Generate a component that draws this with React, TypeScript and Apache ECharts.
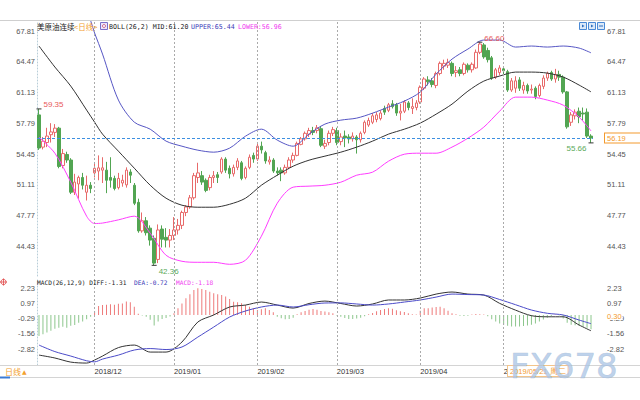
import React, { useEffect, useRef } from "react";
import * as echarts from "echarts";

const monthNames = ["2018/11", "2018/12", "2019/01", "2019/02", "2019/03", "2019/04", "2019/05"];
const monthDays = [
  [13, 14, 15, 16, 19, 20, 21, 22, 23, 26, 27, 28, 29, 30],
  [3, 4, 5, 6, 7, 10, 11, 12, 13, 14, 17, 18, 19, 20, 21, 24, 26, 27, 28, 31],
  [2, 3, 4, 7, 8, 9, 10, 11, 14, 15, 16, 17, 18, 22, 23, 24, 25, 28, 29, 30, 31],
  [1, 4, 5, 6, 7, 8, 11, 12, 13, 14, 15, 18, 19, 20, 21, 22, 25, 26, 27, 28],
  [1, 4, 5, 6, 7, 8, 11, 12, 13, 14, 15, 18, 19, 20, 21, 22, 25, 26, 27, 28, 29],
  [1, 2, 3, 4, 5, 8, 9, 10, 11, 12, 15, 16, 17, 18, 22, 23, 24, 25, 26, 29, 30],
  [1, 2, 3, 6, 7, 8, 9, 10, 13, 14, 15, 16, 17, 20, 21, 22, 23, 24, 27, 28, 29, 30, 31],
];

// [open, close, low, high]
const novOHLC = [
  [58.7, 55.1, 54.9, 59.35], [55.2, 55.85, 54.95, 56.3], [55.7, 56.4, 55.2, 57.3], [56.55, 56.85, 55.7, 57.8],
  [56.8, 57.26, 56.3, 57.7], [57.26, 53.1, 52.9, 57.4], [53.2, 54.5, 52.9, 55.0], [54.4, 53.8, 53.5, 54.7],
  [53.8, 50.3, 50.1, 54.0], [50.3, 51.4, 50.0, 52.3], [51.2, 51.9, 49.6, 52.1], [51.9, 51.06, 50.6, 52.4],
  [50.3, 51.06, 49.4, 52.1], [51.06, 50.7, 50.2, 51.4],
];
const decOHLC = [
  [52.4, 52.9, 51.9, 53.5], [52.6, 52.95, 51.6, 54.3], [52.7, 52.95, 51.3, 54.1], [52.7, 51.6, 50.2, 53.6],
  [51.9, 51.6, 50.8, 54.1], [51.8, 50.7, 50.5, 52.1], [50.8, 51.8, 50.6, 52.4], [51.3, 51.6, 50.9, 52.2],
  [51.1, 52.7, 50.8, 53.0], [52.5, 52.15, 51.3, 52.8], [51.06, 49.1, 48.9, 51.3], [49.2, 46.1, 45.9, 49.6],
  [46.1, 47.2, 45.9, 48.1], [47.2, 45.9, 45.6, 47.6], [46.4, 45.1, 44.5, 46.7], [45.3, 42.6, 42.36, 45.6],
  [43.0, 46.2, 42.6, 46.8], [46.3, 45.2, 44.3, 46.7], [45.4, 45.1, 44.3, 46.4], [45.1, 45.6, 44.3, 46.3],
];
const janOHLC = [
  [45.6, 46.2, 45.1, 47.6], [46.2, 46.7, 45.7, 47.4], [46.7, 48.1, 46.3, 48.3], [48.1, 48.7, 47.7, 48.9],
  [48.7, 49.7, 48.5, 50.0], [49.7, 52.1, 49.5, 52.4], [51.9, 52.4, 51.3, 53.5], [52.1, 51.4, 51.1, 52.6],
  [51.6, 50.5, 50.3, 51.8], [50.8, 51.9, 50.5, 52.2], [51.9, 52.1, 51.3, 52.6], [52.2, 51.9, 51.3, 52.5],
  [52.5, 53.9, 52.3, 54.1], [53.9, 52.7, 52.4, 54.1], [52.9, 52.3, 51.8, 53.2], [52.3, 53.0, 52.0, 53.3],
  [53.0, 53.7, 52.7, 54.0], [53.5, 51.8, 51.6, 53.7], [51.9, 52.9, 51.7, 53.1], [53.0, 54.1, 52.8, 54.4],
  [54.3, 53.9, 53.5, 54.6],
];
const febOHLC = [
  [53.9, 55.3, 53.7, 55.7], [55.3, 54.9, 54.5, 55.8], [54.6, 53.7, 53.4, 54.8], [53.6, 53.8, 53.3, 54.2],
  [53.8, 52.6, 52.4, 54.0], [52.6, 52.4, 52.1, 53.0], [52.7, 52.4, 51.5, 53.0], [52.4, 53.0, 52.2, 53.3],
  [53.0, 53.8, 52.8, 54.1], [53.8, 54.3, 53.5, 54.6], [54.3, 55.6, 54.2, 55.8], [55.5, 56.1, 55.4, 56.3],
  [56.1, 56.7, 55.9, 56.9], [56.6, 57.0, 56.3, 57.3], [57.0, 56.8, 56.5, 57.4], [57.0, 57.3, 56.7, 57.6],
  [57.2, 55.4, 55.2, 57.5], [55.3, 55.6, 55.0, 56.0], [55.7, 56.7, 55.4, 57.0], [56.7, 57.1, 56.4, 57.4],
];
const marOHLC = [
  [57.0, 55.7, 55.4, 57.3], [55.8, 56.3, 55.4, 56.7], [56.4, 56.2, 55.2, 57.0], [56.3, 56.1, 55.6, 56.6],
  [56.1, 56.4, 55.8, 56.8], [56.3, 56.0, 54.5, 56.5], [56.0, 56.7, 55.7, 56.9], [56.8, 57.9, 56.6, 58.1],
  [57.6, 58.1, 57.4, 58.4], [57.9, 58.6, 57.7, 58.9], [58.2, 58.7, 57.9, 59.0], [58.3, 58.9, 58.1, 59.2],
  [59.4, 59.0, 58.7, 59.7], [59.2, 59.8, 59.0, 60.0], [59.9, 59.6, 59.4, 60.3], [59.8, 58.9, 58.6, 60.0],
  [58.9, 59.1, 58.1, 59.9], [59.1, 60.1, 58.9, 60.3], [60.0, 59.5, 59.2, 60.2], [59.4, 59.6, 58.8, 60.5],
  [59.5, 60.0, 59.2, 60.3],
];
const aprOHLC = [
  [60.1, 61.7, 59.9, 61.9], [61.6, 62.6, 61.4, 62.8], [62.5, 62.3, 61.9, 62.9], [62.4, 62.0, 61.7, 62.7],
  [61.9, 63.2, 61.6, 63.4], [63.2, 64.3, 63.0, 64.5], [64.0, 64.3, 63.6, 64.7], [64.1, 64.4, 63.8, 64.8],
  [64.3, 63.2, 62.9, 64.5], [63.3, 63.5, 62.8, 64.0], [63.6, 63.2, 62.9, 63.9], [63.2, 64.2, 63.0, 64.4],
  [64.1, 63.6, 63.3, 64.3], [63.6, 64.2, 63.3, 64.4], [63.8, 65.5, 63.7, 65.8], [65.5, 66.4, 65.3, 66.6],
  [66.3, 65.0, 64.8, 66.5], [65.7, 64.7, 64.4, 66.0], [64.9, 62.7, 62.5, 65.1], [62.8, 63.6, 62.6, 63.8],
  [63.3, 63.8, 63.0, 64.1],
];
const mayOHLC = [
  [63.7, 63.5, 62.9, 64.0], [63.4, 61.4, 61.2, 63.6], [61.4, 62.4, 61.2, 62.7], [61.6, 62.4, 61.1, 62.9],
  [62.5, 61.6, 61.3, 62.8], [61.4, 61.9, 61.0, 62.3], [61.9, 61.3, 61.0, 62.1], [61.4, 61.5, 61.0, 62.0],
  [61.6, 60.7, 60.4, 61.8], [60.8, 61.9, 60.6, 62.1], [61.8, 62.7, 61.5, 63.0], [62.7, 63.2, 62.4, 63.4],
  [63.3, 62.6, 62.4, 63.5], [62.6, 63.1, 62.2, 63.7], [63.1, 62.8, 62.4, 63.5], [62.8, 61.2, 61.0, 63.0],
  [61.2, 57.4, 57.2, 61.3], [57.9, 58.7, 57.5, 59.0], [58.6, 59.0, 58.2, 59.3], [59.1, 58.5, 57.8, 59.5],
  [58.9, 58.8, 58.1, 59.5], [59.0, 56.4, 56.2, 59.4], [56.4, 56.19, 55.66, 56.6],
];

// indicator lines read at these candle positions
const sampleIdx = [0, 4, 8, 12, 14, 16, 20, 24, 28, 32, 36, 40, 44, 48, 52, 56, 60, 64, 68, 72, 76, 80, 84, 88, 92, 96, 100, 104, 108, 112, 116, 120, 124, 128, 132, 136, 139];
const bollMid = [66.18, 63.9, 61.83, 59.22, 57.91, 56.61, 54.76, 52.91, 51.06, 49.65, 48.89, 48.67, 48.67, 48.99, 49.65, 51.06, 52.15, 53.13, 53.78, 54.22, 54.65, 55.2, 55.85, 56.61, 57.15, 57.81, 58.78, 59.87, 61.28, 62.37, 62.92, 63.35, 63.35, 63.24, 62.81, 61.94, 61.2];
const bollUpper = [76.0, 73.4, 72.2, 70.0, 67.6, 65.31, 60.31, 57.91, 57.15, 55.85, 55.3, 54.87, 54.65, 55.09, 56.39, 57.15, 55.96, 55.3, 56.61, 57.7, 58.13, 58.35, 58.89, 59.55, 60.2, 61.18, 63.13, 64.76, 65.85, 66.83, 66.83, 66.07, 66.18, 66.07, 66.18, 65.96, 65.44];
const bollLower = [56.28, 54.54, 51.39, 47.69, 46.9, 46.95, 47.3, 47.7, 45.85, 43.45, 42.8, 42.69, 42.69, 42.47, 42.91, 45.52, 49.11, 50.85, 50.96, 51.06, 51.39, 52.15, 52.48, 53.67, 54.43, 54.54, 54.54, 55.2, 56.17, 57.37, 59.11, 60.63, 60.63, 60.31, 59.76, 58.46, 56.96];
const macdDiff = [-3.32, -3.56, -3.9, -3.98, -3.73, -3.4, -2.7, -2.49, -3.07, -3.07, -2.24, -0.58, 0.0, 0.66, 0.82, 1.07, 0.82, 0.57, 0.95, 1.15, 0.95, 0.74, 0.91, 1.24, 1.24, 1.4, 1.73, 1.9, 1.73, 1.65, 0.96, 0.4, -0.06, -0.15, -0.15, -0.83, -1.31];
const macdDea = [-2.49, -3.03, -3.4, -3.79, -3.88, -3.65, -3.32, -2.9, -2.78, -2.86, -2.65, -1.83, -1.0, -0.17, 0.33, 0.66, 0.82, 0.66, 0.85, 0.99, 1.0, 0.91, 0.82, 0.91, 1.07, 1.24, 1.48, 1.73, 1.69, 1.65, 1.28, 0.85, 0.41, 0.14, 0.0, -0.42, -0.72];
const macdHist = [
  -1.74, -1.6, -1.45, -1.3, -1.15, -1.05, -0.98, -1.05, -0.9, -0.82, -0.65, -0.55, -0.35, -0.15,
  0.3, 0.75, 0.82, 0.85, 0.88, 0.85, 0.92, 0.95, 1.12, 1.05, 0.68, 0.1,
  -0.05, -0.15, -0.4, -0.88, -0.55, -0.33, -0.25, -0.12,
  0.15, 0.55, 0.95, 1.38, 1.71, 2.07, 2.21, 2.15, 2.07, 1.93, 1.79, 1.71, 1.66, 1.52, 1.32, 1.1, 1.05, 0.97, 0.83, 0.69, 0.55, 0.41, 0.47, 0.55, 0.41, 0.22,
  -0.14, -0.28, -0.36, -0.33, -0.22,
  0.06, 0.22, 0.33, 0.44, 0.5, 0.44, 0.33, 0.28, 0.22, 0.14,
  -0.05, -0.14, -0.25, -0.33, -0.33, -0.3, -0.22, -0.1,
  0.06, 0.17, 0.3, 0.41, 0.5, 0.55, 0.52, 0.4, 0.3, 0.25, 0.15, 0.06, 0.03,
  0.35, 0.55, 0.55, 0.62, 0.66, 0.69, 0.55, 0.35,
  0.14, 0.06, -0.06, -0.08, -0.06, 0.03, 0.08, 0.06, 0.03,
  -0.1, -0.35, -0.55, -0.7, -0.8, -0.9, -0.95, -0.95, -0.95, -0.92, -0.88, -0.8, -0.7, -0.55, -0.38, -0.22, -0.1, 0.03, -0.05,
  -0.3, -0.65, -0.8, -0.85, -0.9, -0.95, -1.05, -1.18,
];

const mainTicks = [44.43, 47.77, 51.11, 54.45, 57.79, 61.13, 64.47, 67.81];
const macdTicks = [-2.82, -1.56, -0.29, 0.97, 2.23];
const lastPrice = 56.19;
const extremes = [
  { idx: 0, value: 59.35, kind: "high" },
  { idx: 29, value: 42.36, kind: "low" },
  { idx: 111, value: 66.6, kind: "high" },
  { idx: 139, value: 55.66, kind: "low" },
];

const MONO = "DejaVu Sans Mono";
const SANS = "Liberation Sans";
const CJK = "Noto Sans CJK SC";

export default function App() {
  const ref = useRef<HTMLDivElement>(null);
  useEffect(() => {
    const chart = echarts.init(ref.current!, null, { renderer: "svg" });
    const dates: string[] = [];
    const monthStart: number[] = [];
    monthNames.forEach((m, k) => {
      monthStart.push(dates.length);
      monthDays[k].forEach((d) => dates.push(`${m}/${String(d).padStart(2, "0")}`));
    });
    const candles = [...novOHLC, ...decOHLC, ...janOHLC, ...febOHLC, ...marOHLC, ...aprOHLC, ...mayOHLC];
    const n = dates.length;
    const sparse = (vals: number[]) => {
      const a: (number | null)[] = new Array(n).fill(null);
      sampleIdx.forEach((i, k) => (a[i] = vals[k]));
      return a;
    };
    const lineStarts = monthStart.slice(1);
    const monthLines = lineStarts.map((i) => ({ xAxis: dates[i] }));
    const dashGray = { color: "#aaa", type: [2, 2], width: 1 };

    const axisLab = { fontSize: 7.5, color: "#555", fontFamily: SANS };
    const option: any = {
      animation: false,
      backgroundColor: "#fff",
      grid: [
        { left: 37, width: 556, top: 21, height: 255 },
        { left: 37, width: 556, top: 278, height: 87 },
      ],
      xAxis: [
        { type: "category", gridIndex: 0, data: dates, show: false, boundaryGap: true },
        {
          type: "category",
          gridIndex: 1,
          data: dates,
          boundaryGap: true,
          axisLine: { show: false },
          axisTick: { show: false },
          axisLabel: {
            interval: (i: number) => lineStarts.includes(i),
            formatter: (v: string) => v.slice(0, 7),
            align: "left",
            fontSize: 7.5,
            color: "#333",
            fontFamily: SANS,
            margin: 2,
          },
        },
      ],
      yAxis: [
        {
          type: "value", gridIndex: 0, min: 41.2, max: 68.9, position: "left",
          axisLine: { show: true, lineStyle: { color: "#b8cdd8", type: [1, 2] } },
          axisTick: { show: false }, splitLine: { show: false },
          axisLabel: { ...axisLab, customValues: mainTicks, formatter: (v: number) => v.toFixed(2), margin: 2 },
        },
        {
          type: "value", gridIndex: 0, min: 41.2, max: 68.9, position: "right",
          axisLine: { show: false }, axisTick: { show: false }, splitLine: { show: false },
          axisLabel: { ...axisLab, customValues: mainTicks, formatter: (v: number) => v.toFixed(2), margin: 14, align: "left" },
        },
        {
          type: "value", gridIndex: 1, min: -4.14, max: 3.06, position: "left",
          axisLine: { show: true, lineStyle: { color: "#b8cdd8", type: [1, 2] } },
          axisTick: { show: false }, splitLine: { show: false },
          axisLabel: { ...axisLab, customValues: macdTicks, formatter: (v: number) => v.toFixed(2), margin: 2 },
        },
        {
          type: "value", gridIndex: 1, min: -4.14, max: 3.06, position: "right",
          axisLine: { show: false }, axisTick: { show: false }, splitLine: { show: false },
          axisLabel: { ...axisLab, customValues: macdTicks, formatter: (v: number) => v.toFixed(2), margin: 14, align: "left" },
        },
      ],
      series: [
        {
          type: "candlestick",
          xAxisIndex: 0,
          yAxisIndex: 0,
          data: candles,
          barWidth: 3,
          itemStyle: { color: "#ffffff", color0: "#52a552", borderColor: "#e86a6a", borderColor0: "#52a552", borderWidth: 1 },
          markLine: {
            silent: true,
            symbol: ["none", "none"],
            data: [
              ...monthLines.map((m) => ({ ...m, lineStyle: dashGray, label: { show: false } })),
              {
                yAxis: lastPrice,
                lineStyle: { color: "#3d8fe0", type: [3, 2], width: 1 },
                label: {
                  show: true, position: "end", formatter: lastPrice.toFixed(2), distance: 12,
                  color: "#f39a2e", fontSize: 7.5, fontFamily: SANS, backgroundColor: "#fff",
                  borderColor: "#f39a2e", borderWidth: 1, padding: [1, 20, 0, 2],
                },
              },
            ],
          },
          markPoint: {
            silent: true,
            data: extremes.map((e) => ({
              coord: [dates[e.idx], e.value],
              symbol: "rect",
              symbolSize: [5, 1],
              itemStyle: { color: "#333" },
              label: {
                show: true,
                formatter: e.value.toFixed(2),
                position: e.idx === 139 ? "left" : "right",
                distance: 2,
                offset: e.kind === "high" ? [0, -4] : [0, 6],
                color: e.kind === "high" ? "#e85a5a" : "#5aaa5a",
                fontSize: 8,
                fontFamily: SANS,
              },
            })),
          },
        },
        { type: "line", xAxisIndex: 0, yAxisIndex: 0, data: sparse(bollUpper), connectNulls: true, smooth: 0.3, showSymbol: false, lineStyle: { color: "#5656c4", width: 1 } },
        { type: "line", xAxisIndex: 0, yAxisIndex: 0, data: sparse(bollMid), connectNulls: true, smooth: 0.3, showSymbol: false, lineStyle: { color: "#333", width: 1 } },
        { type: "line", xAxisIndex: 0, yAxisIndex: 0, data: sparse(bollLower), connectNulls: true, smooth: 0.3, showSymbol: false, lineStyle: { color: "#ff3cff", width: 1 } },
        {
          type: "bar",
          xAxisIndex: 1,
          yAxisIndex: 2,
          barWidth: 1,
          data: macdHist.map((v) => ({ value: v, itemStyle: { color: v >= 0 ? "#ee7a7a" : "#8cc68c" } })),
          markLine: {
            silent: true,
            symbol: ["none", "none"],
            data: monthLines.map((m) => ({ ...m, lineStyle: dashGray, label: { show: false } })),
          },
        },
        { type: "line", xAxisIndex: 1, yAxisIndex: 2, data: sparse(macdDiff), connectNulls: true, smooth: 0.3, showSymbol: false, lineStyle: { color: "#333", width: 1 } },
        { type: "line", xAxisIndex: 1, yAxisIndex: 2, data: sparse(macdDea), connectNulls: true, smooth: 0.3, showSymbol: false, lineStyle: { color: "#4b4bc8", width: 1 } },
      ],
      graphic: [
        { type: "line", shape: { x1: 0, y1: 20.5, x2: 640, y2: 20.5 }, style: { stroke: "#cfcfcf", lineWidth: 1 }, z: 10 },
        { type: "line", shape: { x1: 0, y1: 365.5, x2: 640, y2: 365.5 }, style: { stroke: "#d4d4d4", lineWidth: 1 }, z: 10 },
        { type: "line", shape: { x1: 0, y1: 377.5, x2: 640, y2: 377.5 }, style: { stroke: "#d4d4d4", lineWidth: 1 }, z: 10 },
        { type: "line", shape: { x1: 0, y1: 377.5, x2: 10, y2: 377.5 }, style: { stroke: "#3a7bd5", lineWidth: 2 }, z: 11 },
        { type: "text", x: 37, y: 26, style: { text: "美原油连续", fill: "#222", fontSize: 7.5, fontFamily: CJK, verticalAlign: "middle" }, z: 20 },
        { type: "text", x: 74, y: 26, style: { text: "<日线>", fill: "#f3a02e", fontSize: 7.5, fontFamily: CJK, verticalAlign: "middle" }, z: 20 },
        { type: "rect", shape: { x: 100.5, y: 22.5, width: 7, height: 7 }, style: { fill: "#ece6fb", stroke: "#7b6fc9", lineWidth: 1 }, z: 20 },
        { type: "circle", shape: { cx: 104, cy: 26, r: 1.6 }, style: { fill: "none", stroke: "#d05070", lineWidth: 0.8 }, z: 21 },
        { type: "text", x: 109, y: 26.5, style: { text: "BOLL(26,2) MID:61.20", fill: "#222", fontSize: 6.6, fontFamily: MONO, verticalAlign: "middle" }, z: 20 },
        { type: "text", x: 191, y: 26.5, style: { text: "UPPER:65.44", fill: "#3a3ab8", fontSize: 6.6, fontFamily: MONO, verticalAlign: "middle" }, z: 20 },
        { type: "text", x: 238, y: 26.5, style: { text: "LOWER:56.96", fill: "#f03cf0", fontSize: 6.6, fontFamily: MONO, verticalAlign: "middle" }, z: 20 },
        ...[579.5, 588.5, 597.5].map((x, k) => ({
          type: "group",
          z: 20,
          children: [
            { type: "rect", shape: { x, y: 22.5, width: 7, height: 7 }, style: { fill: "#dce9f8", stroke: "#4a8ad6", lineWidth: 1 } },
            k < 2
              ? { type: "polygon", shape: { points: [[x + 2.5, 24.5], [x + 5, 26], [x + 2.5, 27.5]] }, style: { fill: "#2d6fc0" } }
              : { type: "polyline", shape: { points: [[x + 1.5, 26], [x + 5.5, 26]] }, style: { stroke: "#2d6fc0", lineWidth: 1 } },
          ],
        })),
        { type: "circle", shape: { cx: 3.5, cy: 282, r: 2.6 }, style: { fill: "none", stroke: "#e04848", lineWidth: 0.9 }, z: 20 },
        { type: "line", shape: { x1: 0, y1: 282, x2: 7, y2: 282 }, style: { stroke: "#e04848", lineWidth: 0.8 }, z: 20 },
        { type: "line", shape: { x1: 3.5, y1: 278.5, x2: 3.5, y2: 285.5 }, style: { stroke: "#e04848", lineWidth: 0.8 }, z: 20 },
        { type: "text", x: 37, y: 282, style: { text: "MACD(26,12,9) DIFF:-1.31", fill: "#222", fontSize: 6.2, fontFamily: MONO, verticalAlign: "middle" }, z: 20 },
        { type: "text", x: 134, y: 282, style: { text: "DEA:-0.72", fill: "#3a3ab8", fontSize: 6.2, fontFamily: MONO, verticalAlign: "middle" }, z: 20 },
        { type: "text", x: 176, y: 282, style: { text: "MACD:-1.18", fill: "#f03cf0", fontSize: 6.2, fontFamily: MONO, verticalAlign: "middle" }, z: 20 },
        { type: "text", x: 606, y: 316, style: { text: "0.30", fill: "#f39a2e", fontSize: 7.5, fontFamily: SANS, verticalAlign: "middle", backgroundColor: "#fff", padding: [0, 1] }, z: 20 },
        { type: "text", x: 5, y: 371, style: { text: "日线", fill: "#f3a02e", fontSize: 8, fontFamily: CJK, verticalAlign: "middle" }, z: 20 },
        { type: "text", x: 22, y: 371, style: { text: "▲", fill: "#f3a02e", fontSize: 6, fontFamily: "DejaVu Sans", verticalAlign: "middle" }, z: 20 },
        { type: "text", x: 508, y: 371, style: { text: "2019/05/21 周二", fill: "#f39a2e", fontSize: 7.5, fontFamily: SANS, verticalAlign: "middle", backgroundColor: "#fff", borderColor: "#f3c48a", borderWidth: 1, padding: [1, 2] }, z: 20 },
        { type: "text", x: 510, y: 366, style: { text: "FX678", fill: "rgba(172,198,230,0.78)", stroke: "rgba(130,150,180,0.5)", lineWidth: 0.6, fontSize: 34, fontFamily: "DejaVu Sans", verticalAlign: "middle" }, z: 30 },
      ],
    };
    chart.setOption(option);
    return () => chart.dispose();
  }, []);
  return <div ref={ref} style={{ position: "fixed", left: 0, top: 0, width: 640, height: 400, background: "#fff" }} />;
}
